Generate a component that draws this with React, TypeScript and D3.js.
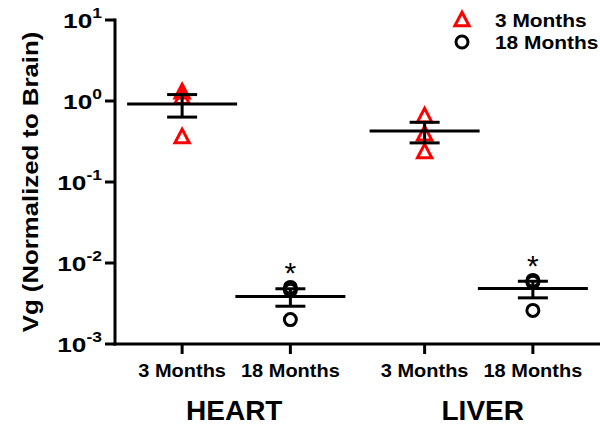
import React from "react";
import * as d3 from "d3";

const tissues = ["HEART", "LIVER"];
const ages = ["3 Months", "18 Months"];
const heart3 = [1.29, 1.1, 0.36];
const heart18 = [0.005, 0.0046, 0.002];
const liver3 = [0.65, 0.39, 0.235];
const liver18 = [0.0058, 0.0061, 0.0026];
const yTicks = [-3, -2, -1, 0, 1];
const starred = ["18 Months"];

const W = 600;
const H = 426;
const margin = { top: 20, right: 0, bottom: 82, left: 115 };
const FONT = "'Liberation Sans', Arial, sans-serif";

const groups = [
  { tissue: "HEART", age: "3 Months", values: heart3 },
  { tissue: "HEART", age: "18 Months", values: heart18 },
  { tissue: "LIVER", age: "3 Months", values: liver3 },
  { tissue: "LIVER", age: "18 Months", values: liver18 },
];

const triPath = (cx: number, cy: number, s: number) =>
  `M${cx},${cy - s * 0.6}L${cx + s * 0.55},${cy + s * 0.45}L${cx - s * 0.55},${cy + s * 0.45}Z`;

export default function App() {
  const y = d3
    .scaleLog()
    .domain([1e-3, 1e1])
    .range([H - margin.bottom, margin.top]);
  const xOuter = d3
    .scaleBand()
    .domain(tissues)
    .range([margin.left, W - margin.right]);
  const xInner = d3
    .scalePoint()
    .domain(ages)
    .range([0, xOuter.bandwidth()])
    .padding(0.62);
  const xPos = (t: string, a: string) => (xOuter(t) as number) + (xInner(a) as number);

  const y0 = H - margin.bottom;

  return (
    <svg width={W} height={H} style={{ position: "absolute", left: 0, top: 0, background: "#fff" }}
      fontFamily={FONT} fontWeight="bold">
      {/* y axis */}
      <line x1={margin.left} x2={margin.left} y1={margin.top - 1.5} y2={y0 + 1.5} stroke="#000" strokeWidth={3} />
      {yTicks.map((e) => (
        <g key={e} transform={`translate(${margin.left},${y(Math.pow(10, e))})`}>
          <line x1={-10} x2={0} stroke="#000" strokeWidth={3} />
          <g transform="translate(-13,8) scale(1.25,1)">
            <text textAnchor="end" fontSize={21} fill="#000">
              10<tspan fontSize={14} dy={-10}>{e}</tspan>
            </text>
          </g>
        </g>
      ))}
      <text transform={`translate(30,${(margin.top + y0) / 2}) rotate(-90) scale(1.12,1)`} textAnchor="middle"
        dominantBaseline="central" fontSize={23} fill="#000">
        Vg (Normalized to Brain)
      </text>

      {/* x axis */}
      <line x1={margin.left - 1.5} x2={W} y1={y0} y2={y0} stroke="#000" strokeWidth={3} />
      {groups.map((g, i) => {
        const x = xPos(g.tissue, g.age);
        return (
          <g key={"xt" + i}>
            <line x1={x} x2={x} y1={y0} y2={y0 + 10} stroke="#000" strokeWidth={3} />
            <g transform={`translate(${x},${y0 + 33}) scale(1.08,1)`}>
              <text textAnchor="middle" fontSize={18.5} fill="#000">{g.age}</text>
            </g>
          </g>
        );
      })}
      {tissues.map((t, i) => (
        <text key={t} x={(xOuter(t) as number) + xOuter.bandwidth() / 2 + (i === 0 ? -2 : 4)} y={y0 + 76}
          textAnchor="middle" fontSize={28} fill="#000">{t}</text>
      ))}

      {/* points */}
      {groups.map((g, i) => {
        const x = xPos(g.tissue, g.age);
        return (
          <g key={"p" + i}>
            {g.values.map((v, j) =>
              g.age === "3 Months" ? (
                <path key={j} d={triPath(x, y(v), 13)} fill="none" stroke="#ff0000" strokeWidth={3} strokeLinejoin="miter" />
              ) : (
                <circle key={j} cx={x} cy={y(v)} r={6} fill="none" stroke="#000" strokeWidth={3} />
              )
            )}
          </g>
        );
      })}

      {/* mean and SEM */}
      {groups.map((g, i) => {
        const x = xPos(g.tissue, g.age);
        const m = d3.mean(g.values) as number;
        const sem = (d3.deviation(g.values) as number) / Math.sqrt(g.values.length);
        return (
          <g key={"m" + i} stroke="#000" strokeWidth={3}>
            <line x1={x - 55} x2={x + 55} y1={y(m)} y2={y(m)} />
            <line x1={x} x2={x} y1={y(m + sem)} y2={y(m - sem)} />
            <line x1={x - 15} x2={x + 15} y1={y(m + sem)} y2={y(m + sem)} />
            <line x1={x - 15} x2={x + 15} y1={y(m - sem)} y2={y(m - sem)} />
            {starred.includes(g.age) && (
              <text x={x} y={y(d3.max(g.values) as number) - 4} textAnchor="middle" fontSize={30}
                fontWeight="normal" stroke="none" fill="#000">*</text>
            )}
          </g>
        );
      })}

      {/* legend */}
      <path d={triPath(462, 20, 13)} fill="none" stroke="#ff0000" strokeWidth={3} />
      <circle cx={462} cy={42} r={6} fill="none" stroke="#000" strokeWidth={3} />
      <g transform="translate(495,27) scale(1.1,1)">
        <text fontSize={19} fill="#000">3 Months</text>
      </g>
      <g transform="translate(495,49) scale(1.1,1)">
        <text fontSize={19} fill="#000">18 Months</text>
      </g>
    </svg>
  );
}
